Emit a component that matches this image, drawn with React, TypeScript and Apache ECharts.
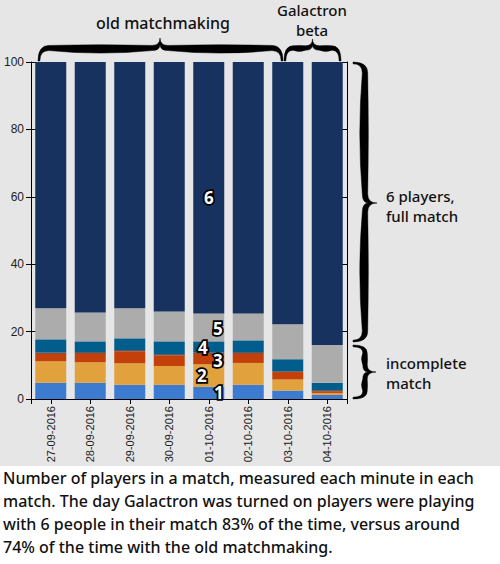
import React, { useEffect, useRef } from "react";
import * as echarts from "echarts";

const categories = [
  "27-09-2016",
  "28-09-2016",
  "29-09-2016",
  "30-09-2016",
  "01-10-2016",
  "02-10-2016",
  "03-10-2016",
  "04-10-2016",
];
const onePlayer = [4.8, 4.8, 4.2, 4.2, 3.6, 4.2, 2.5, 1.2];
const twoPlayers = [6.4, 6.1, 6.4, 5.6, 6.7, 6.5, 3.3, 0.6];
const threePlayers = [2.2, 2.5, 3.5, 3.1, 3.1, 2.7, 2.2, 0.5];
const thinBand = [0.4, 0.5, 0.4, 0.4, 0.4, 0.5, 0.2, 0.3];
const fourPlayers = [3.9, 3.2, 3.5, 3.8, 3.3, 3.5, 3.6, 2.2];
const fivePlayers = [9.2, 8.6, 8.9, 8.9, 8.3, 8.0, 10.4, 11.2];
const sixPlayers = [73.1, 74.3, 73.1, 74.0, 74.6, 74.6, 77.8, 84.0];

const yTicks = [0, 20, 40, 60, 80, 100];
const labelledBar = 4; // "01-10-2016"
const captionLines = [
  "Number of players in a match, measured each minute in each",
  "match. The day Galactron was turned on players were playing",
  "with 6 people in their match 83% of the time, versus around",
  "74% of the time with the old matchmaking.",
];

type Pt = [number, number];

function bracePath(
  A: Pt,
  B: Pt,
  n: Pt,
  depth: number,
  um: number,
  d1: number,
  r1: number,
  r2: number,
  hs: number,
  hb: number
): string {
  const L = Math.hypot(B[0] - A[0], B[1] - A[1]);
  const dx = (B[0] - A[0]) / L;
  const dy = (B[1] - A[1]) / L;
  const P = (u: number, v: number) =>
    `${(A[0] + dx * u + n[0] * v).toFixed(2)},${(A[1] + dy * u + n[1] * v).toFixed(2)}`;
  const te = 1.8;
  const m1 = (r1 + um - r2) / 2;
  const m2 = (um + r2 + L - r1) / 2;
  return [
    `M${P(0, 0)}`,
    `Q${P(0, d1 + hs)} ${P(r1, d1 + hs)}`,
    `Q${P(m1, d1 + hs + hb * 0.25)} ${P(um - r2, d1 + hs)}`,
    `Q${P(um, d1 + hs)} ${P(um, depth)}`,
    `Q${P(um, d1 + hs)} ${P(um + r2, d1 + hs)}`,
    `Q${P(m2, d1 + hs + hb * 0.25)} ${P(L - r1, d1 + hs)}`,
    `Q${P(L, d1 + hs)} ${P(L, 0)}`,
    `L${P(L - te, 0)}`,
    `Q${P(L - te, d1 - hs)} ${P(L - r1, d1 - hs)}`,
    `Q${P(m2, d1 - hs - hb)} ${P(um + r2, d1 - hs)}`,
    `Q${P(um, d1 - hs)} ${P(um, d1 + hs + 1)}`,
    `Q${P(um, d1 - hs)} ${P(um - r2, d1 - hs)}`,
    `Q${P(m1, d1 - hs - hb)} ${P(r1, d1 - hs)}`,
    `Q${P(te, d1 - hs)} ${P(te, 0)}`,
    "Z",
  ].join(" ");
}

let registered = false;
function registerBraces() {
  if (registered) return;
  registered = true;
  echarts.graphic.registerShape(
    "braceOld",
    echarts.graphic.extendPath(bracePath([38, 61], [283, 61], [0, -1], 23, 122, 13, 11, 8, 2.6, 5), {})
  );
  echarts.graphic.registerShape(
    "braceBeta",
    echarts.graphic.extendPath(bracePath([284, 61], [341, 61], [0, -1], 22, 28.5, 13, 9, 7, 2.2, 2.5), {})
  );
  echarts.graphic.registerShape(
    "braceFull",
    echarts.graphic.extendPath(bracePath([353, 62], [353, 342], [1, 0], 24, 141, 12, 11, 9, 2.7, 5), {})
  );
  echarts.graphic.registerShape(
    "braceIncomplete",
    echarts.graphic.extendPath(bracePath([353, 345], [353, 399], [1, 0], 23, 27, 12, 8, 7, 2.2, 2.5), {})
  );
}

const ANNOT_FONT = "'Noto Sans', sans-serif";
const TICK_FONT = "'Liberation Sans', Arial, sans-serif";

export default function App() {
  const ref = useRef<HTMLDivElement>(null);

  useEffect(() => {
    document.body.style.margin = "0";
    if (!ref.current) return;
    registerBraces();
    const chart = echarts.init(ref.current, undefined, { renderer: "svg" });

    const mk = (
      name: string,
      data: number[],
      color: string,
      labelText?: string,
      offset?: [number, number]
    ) => ({
      name,
      type: "bar",
      stack: "total",
      barWidth: 31,
      xAxisIndex: 0,
      yAxisIndex: 0,
      itemStyle: { color },
      data: data.map((v, i) =>
        labelText && i === labelledBar
          ? {
              value: v,
              label: {
                show: true,
                position: "inside",
                formatter: labelText,
                offset,
                fontSize: 17,
                fontWeight: "bold",
                fontFamily: ANNOT_FONT,
                color: "#ffffff",
                textBorderColor: "#000000",
                textBorderWidth: 3.5,
              },
            }
          : v
      ),
    });

    const annot = (
      text: string,
      x: number,
      y: number,
      align: string,
      size: number,
      lineHeight: number
    ) => ({
      type: "text",
      x,
      y,
      style: {
        text,
        fill: "#111111",
        font: `500 ${size}px ${ANNOT_FONT}`,
        lineHeight,
        textAlign: align,
        textVerticalAlign: "middle",
      },
    });

    const braceStyle = { fill: "#000000", stroke: "#000000", lineWidth: 0.5 };

    chart.setOption({
      animation: false,
      backgroundColor: "transparent",
      grid: { left: 31, right: 153, top: 62, bottom: 165, containLabel: false },
      xAxis: [
        {
          type: "category",
          data: categories,
          axisLine: { show: true, lineStyle: { color: "#000", width: 1 } },
          axisTick: { show: true, alignWithLabel: true, length: 5, lineStyle: { color: "#000" } },
          axisLabel: {
            rotate: 90,
            margin: 7,
            fontSize: 11,
            fontFamily: TICK_FONT,
            color: "#222",
          },
          splitLine: { show: false },
        },
        {
          type: "value",
          min: 0,
          max: 1,
          interval: 1,
          position: "bottom",
          axisLine: { show: false },
          axisTick: { show: true, length: 5, lineStyle: { color: "#000" } },
          axisLabel: { show: false },
          splitLine: { show: false },
        },
      ],
      yAxis: [
        {
          type: "value",
          min: 0,
          max: 100,
          interval: 20,
          position: "left",
          axisLine: { show: true, lineStyle: { color: "#000", width: 1 } },
          axisTick: { show: true, length: 5, lineStyle: { color: "#000" } },
          axisLabel: {
            margin: 7,
            fontSize: 12,
            fontFamily: TICK_FONT,
            color: "#222",
            formatter: (v: number) => (yTicks.includes(v) ? String(v) : ""),
          },
          splitLine: { show: false },
        },
        {
          type: "value",
          min: 0,
          max: 100,
          interval: 20,
          position: "right",
          axisLine: { show: true, lineStyle: { color: "#000", width: 1 } },
          axisTick: { show: true, inside: true, length: 7, lineStyle: { color: "#000" } },
          axisLabel: { show: false },
          splitLine: { show: false },
        },
        {
          type: "value",
          min: 0,
          max: 100,
          interval: 20,
          position: "left",
          axisLine: { show: false },
          axisTick: { show: true, inside: true, length: 7, lineStyle: { color: "#000" } },
          axisLabel: { show: false },
          splitLine: { show: false },
        },
      ],
      series: [
        mk("1 player", onePlayer, "#3d7bd0", "1", [10, 0]),
        mk("2 players", twoPlayers, "#e1a23e", "2", [-7, 0]),
        mk("3 players", threePlayers, "#c4400b", "3", [9, 1]),
        mk("other", thinBand, "#6b3b2c"),
        mk("4 players", fourPlayers, "#005d8c", "4", [-6, 1]),
        mk("5 players", fivePlayers, "#acacac", "5", [9, 1]),
        mk("6 players", sixPlayers, "#17325e", "6", [0, 10]),
      ],
      graphic: [
        { type: "braceOld", x: 0, y: 0, style: braceStyle },
        { type: "braceBeta", x: 0, y: 0, style: braceStyle },
        { type: "braceFull", x: 0, y: 0, style: braceStyle },
        { type: "braceIncomplete", x: 0, y: 0, style: braceStyle },
        annot("old matchmaking", 163, 23, "center", 16, 20),
        annot("Galactron\nbeta", 312, 20, "center", 15, 20.5),
        annot("6 players,\nfull match", 386, 206, "left", 15, 20.5),
        annot("incomplete\nmatch", 386, 373, "left", 15, 20.5),
        annot(captionLines.join("\n"), 3, 512, "left", 16, 23),
      ],
    });

    return () => chart.dispose();
  }, []);

  return (
    <div
      style={{
        width: 500,
        height: 564,
        background: "linear-gradient(to bottom, #e6e6e6 0px, #e6e6e6 466px, #ffffff 466px)",
      }}
    >
      <div ref={ref} style={{ width: 500, height: 564 }} />
    </div>
  );
}
